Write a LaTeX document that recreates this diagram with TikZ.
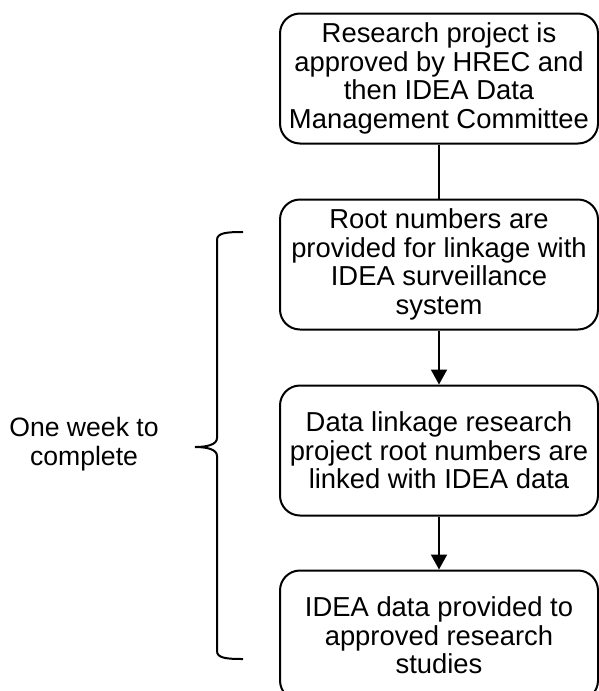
\documentclass[tikz,border=0pt]{standalone}
\usepackage{fontspec}
\setmainfont{Liberation Sans}
\usetikzlibrary{positioning, arrows.meta}

\tikzset{
  stage/.style={draw, line width=1pt, rounded corners=10pt, minimum width=159pt,
    minimum height=65pt, inner sep=0pt, align=center,
    font=\fontsize{13.7}{14.2}\selectfont},
  link/.style={line width=1pt},
  flow/.style={line width=1pt, -{Triangle[length=7.5pt, width=8pt]}}
}

\begin{document}
\begin{tikzpicture}[x=0.5pt, y=-0.5pt]
  \useasboundingbox (0,0) rectangle (599,691);

  % Etapas
  \node[stage] (approve) at (439,78.5) {Research project is\\approved by HREC and\\then IDEA Data\\Management Committee};
  \node[stage, below=27pt of approve] (roots) {Root numbers are\\provided for linkage with\\IDEA surveillance\\system};
  \node[stage, below=27pt of roots] (linked) {Data linkage research\\project root numbers are\\linked with IDEA data};
  \node[stage, below=26.5pt of linked] (provided) {IDEA data provided to\\approved research\\studies};

  % Conectores
  \draw[link] (approve) -- (roots);
  \draw[flow] (roots) -- (linked);
  \draw[flow] (linked) -- (provided);

  % Llave
  \draw[line width=1pt] (243,232) .. controls (226,232) and (217,233) .. (217,240)
    -- (217,438) .. controls (217,445) and (206,447) .. (195,447)
    .. controls (206,447) and (217,449) .. (217,456)
    -- (217,651) .. controls (217,658) and (226,659) .. (243,659);

  % Tiempo
  \node[align=center, font=\fontsize{13.3}{14.2}\selectfont] (week) at (84,444) {One week to\\complete};
\end{tikzpicture}
\end{document}
